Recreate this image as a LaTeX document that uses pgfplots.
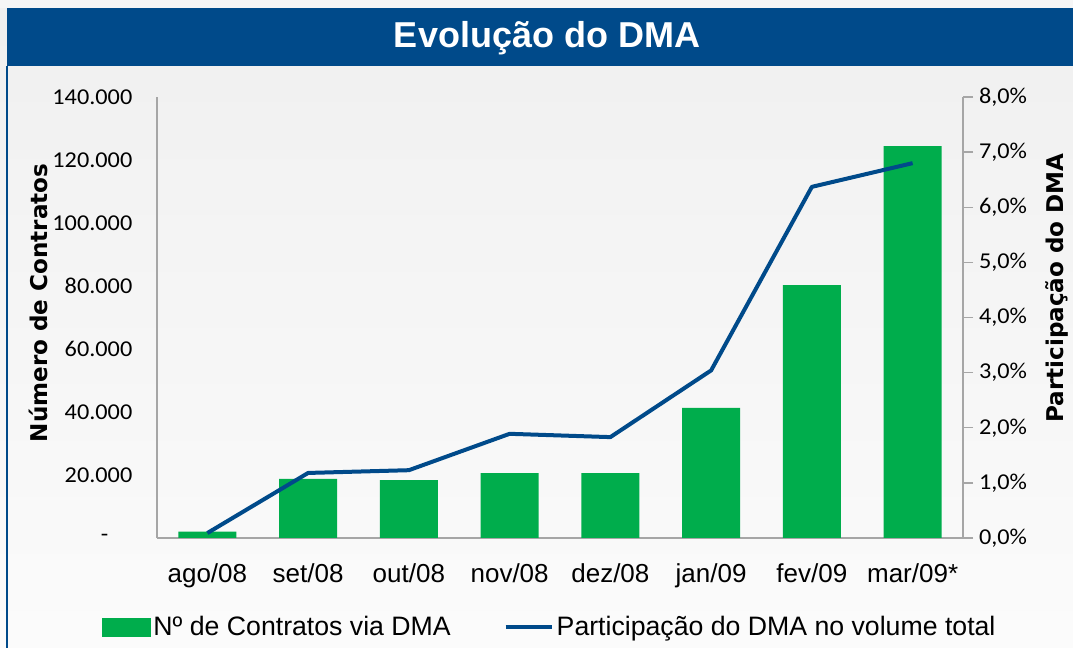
\documentclass[border=0pt]{standalone}
\usepackage{pgfplots}
\pgfplotsset{compat=1.18}
\usepackage{fontspec}
\setmainfont{Liberation Sans}
\newfontfamily\tickfont[FakeStretch=1.07]{Carlito}
\newfontfamily\labfont{DejaVu Sans}
\definecolor{dmagreen}{RGB}{0,173,76}
\definecolor{dmablue}{RGB}{0,74,138}
\definecolor{axgray}{RGB}{166,166,166}
\begin{document}
\begin{tikzpicture}
\useasboundingbox (0,0) rectangle (804.75pt,486pt);
\shade[top color=gray!12, bottom color=gray!3] (0,0) rectangle (804.75pt,486pt);
\fill[gray!7] (0,480pt) rectangle (804.75pt,486pt);
\fill[dmablue] (5.25pt,436.5pt) rectangle (804.75pt,480pt);
\node[text=white, font=\fontsize{27}{31}\selectfont\bfseries] at (410.25pt,457.5pt) {Evolução do DMA};
\draw[dmablue, line width=2pt] (5.25pt,0) -- (5.25pt,436.5pt);

\begin{axis}[at={(117.75pt,82.5pt)}, anchor=south west,
  width=604.5pt, height=330.75pt, scale only axis,
  xmin=-0.5, xmax=7.5, ymin=0, ymax=140000,
  axis x line*=bottom, axis y line*=left,
  axis line style={axgray, line width=1pt},
  major tick length=0pt,
  xtick={0,...,7},
  xticklabels={ago/08,set/08,out/08,nov/08,dez/08,jan/09,fev/09,mar/09*},
  xticklabel style={font=\fontsize{19.5}{23}\selectfont, yshift=-16pt},
  ytick={0,20000,40000,60000,80000,100000,120000,140000},
  yticklabels={{\raisebox{-3pt}{-}\hspace*{18pt}},20.000,40.000,60.000,80.000,100.000,120.000,140.000},
  scaled y ticks=false,
  yticklabel style={font=\tickfont\fontsize{17}{20}\selectfont, xshift=-15pt},
  ylabel={Número de Contratos},
  ylabel style={font=\labfont\bfseries\fontsize{17.3}{20}\selectfont,
    at={(axis description cs:-0.1476,0.533)}, anchor=center},
  clip=false]
\addplot[ybar, bar width=43.5pt, fill=dmagreen, draw=none]
  coordinates {(0,2000) (1,18800) (2,18400) (3,20600) (4,20600) (5,41300) (6,80300) (7,124400)};
\end{axis}

\begin{axis}[at={(117.75pt,82.5pt)}, anchor=south west,
  width=604.5pt, height=330.75pt, scale only axis,
  xmin=-0.5, xmax=7.5, ymin=0, ymax=8,
  axis x line=none, axis y line*=right,
  axis line style={axgray, line width=1pt},
  ytick={0,1,2,3,4,5,6,7,8},
  yticklabels={{0,0\%},{1,0\%},{2,0\%},{3,0\%},{4,0\%},{5,0\%},{6,0\%},{7,0\%},{8,0\%}},
  tick align=outside, major tick length=7.5pt,
  tick style={axgray, line width=1pt},
  yticklabel style={font=\tickfont\fontsize{17}{20}\selectfont, xshift=1pt},
  ylabel={Participação do DMA},
  ylabel style={font=\labfont\bfseries\fontsize{17.3}{20}\selectfont,
    at={(axis description cs:1.116,0.567)}, anchor=center, rotate=0},
  legend style={at={(axis description cs:-0.0682,-0.2018)}, anchor=west,
    draw=none, fill=none, inner sep=0pt, font=\fontsize{20}{24}\selectfont,
    /tikz/every even column/.append style={column sep=38pt}},
  legend columns=2,
  clip=false]
\addlegendimage{legend image code/.code={\fill[dmagreen] (0pt,-6.75pt) rectangle (36pt,6.75pt);}}
\addlegendentry{Nº de Contratos via DMA}
\addplot[dmablue, line width=3pt, line join=round,
  legend image code/.code={\draw[dmablue, line width=2.5pt] (0pt,0pt) -- (35pt,0pt);}]
  coordinates {(0,0.09) (1,1.18) (2,1.23) (3,1.89) (4,1.83) (5,3.04) (6,6.37) (7,6.80)};
\addlegendentry{Participação do DMA no volume total}
\end{axis}
\end{tikzpicture}
\end{document}
